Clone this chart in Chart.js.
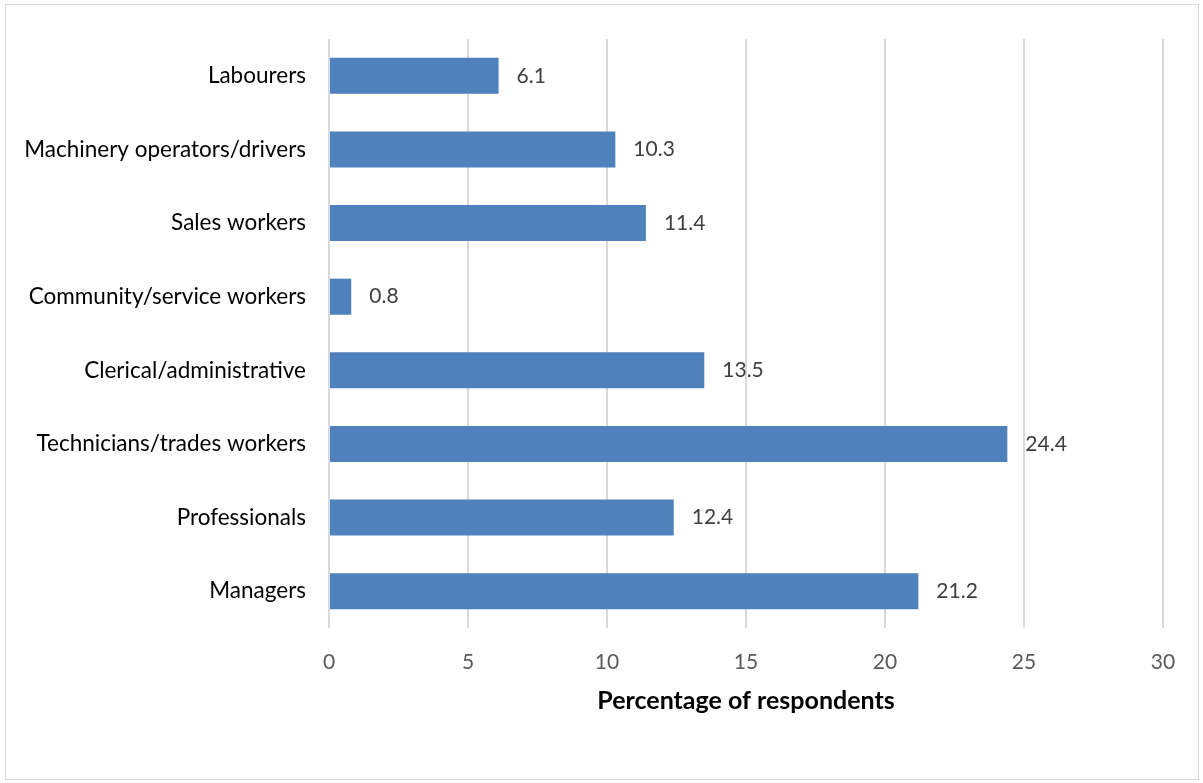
<!DOCTYPE html>
<html>
<head>
<meta charset="utf-8">
<script src="https://cdn.jsdelivr.net/npm/chart.js@4/dist/chart.umd.min.js"></script>
<style>
  html, body { margin: 0; padding: 0; background: #fff; }
  #wrap { position: relative; width: 1203px; height: 783px; }
  #frame { position: absolute; left: 5px; top: 4px; width: 1194px; height: 776px; border: 1px solid #d9d9d9; box-sizing: border-box; }
  canvas { position: absolute; left: 0; top: 0; }
</style>
</head>
<body>
<div id="wrap">
  <div id="frame"></div>
  <canvas id="c" width="1203" height="783"></canvas>
</div>
<script>
// Occupation groups, top to bottom
const categories = [
  'Labourers',
  'Machinery operators/drivers',
  'Sales workers',
  'Community/service workers',
  'Clerical/administrative',
  'Technicians/trades workers',
  'Professionals',
  'Managers'
];
// Share of respondents (%)
const percentages = [6.1, 10.3, 11.4, 0.8, 13.5, 24.4, 12.4, 21.2];
const xTicks = [0, 5, 10, 15, 20, 25, 30];

const FONT = 'Lato, "Open Sans", sans-serif';

// Writes each bar's value just past its end
const valueLabels = {
  id: 'valueLabels',
  afterDatasetsDraw(chart) {
    const ctx = chart.ctx;
    const meta = chart.getDatasetMeta(0);
    ctx.save();
    ctx.font = '21px ' + FONT;
    ctx.fillStyle = '#404040';
    ctx.textAlign = 'left';
    ctx.textBaseline = 'middle';
    meta.data.forEach((bar, i) => {
      ctx.fillText(percentages[i].toFixed(1), bar.x + 18, bar.y);
    });
    ctx.restore();
  }
};

new Chart(document.getElementById('c'), {
  type: 'bar',
  data: {
    labels: categories,
    datasets: [{
      data: percentages,
      backgroundColor: '#4f81bd',
      borderColor: '#4f81bd',
      borderWidth: 0,
      barPercentage: 0.98,
      categoryPercentage: 0.5
    }]
  },
  options: {
    indexAxis: 'y',
    responsive: false,
    animation: false,
    layout: { padding: { left: 10, right: 40, top: 39, bottom: 63 } },
    plugins: { legend: { display: false }, tooltip: { enabled: false } },
    scales: {
      x: {
        min: 0, max: 30,
        afterBuildTicks(scale) { scale.ticks = xTicks.map(v => ({ value: v })); },
        grid: { color: '#d9d9d9', lineWidth: 2, drawTicks: false },
        border: { display: false },
        ticks: { color: '#595959', font: { family: FONT, size: 21 }, padding: 22 },
        title: {
          display: true,
          text: 'Percentage of respondents',
          color: '#000',
          font: { family: FONT, size: 25, weight: 'bold' },
          padding: { top: 6 }
        },
        afterFit(scale) { scale.height = 92; }
      },
      y: {
        grid: { display: false },
        border: { display: false },
        ticks: { color: '#000', font: { family: FONT, size: 22.5 }, padding: 15 },
        afterFit(scale) { scale.width = 319; }
      }
    }
  },
  plugins: [valueLabels]
});
</script>
</body>
</html>
